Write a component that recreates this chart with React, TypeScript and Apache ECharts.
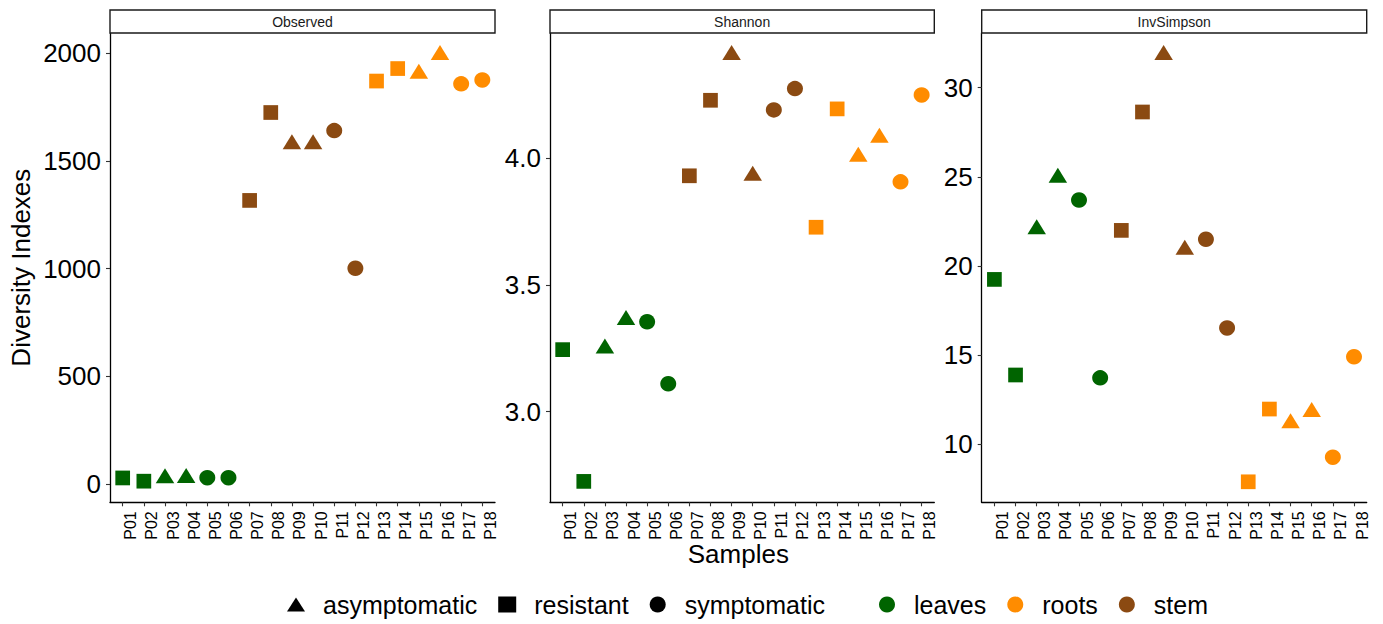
import React, { useEffect, useRef } from "react";
import * as echarts from "echarts";

const samples = ["P01","P02","P03","P04","P05","P06","P07","P08","P09","P10","P11","P12","P13","P14","P15","P16","P17","P18"];
const treatment = [
  "resistant","resistant","asymptomatic","asymptomatic","symptomatic","symptomatic",
  "resistant","resistant","asymptomatic","asymptomatic","symptomatic","symptomatic",
  "resistant","resistant","asymptomatic","asymptomatic","symptomatic","symptomatic",
];
const tissue = [
  "leaves","leaves","leaves","leaves","leaves","leaves",
  "stem","stem","stem","stem","stem","stem",
  "roots","roots","roots","roots","roots","roots",
];
const observed = [29, 14, 39, 40, 30, 30, 1317, 1725, 1589, 1589, 1641, 1002, 1871, 1929, 1916, 2004, 1858, 1876];
const shannon = [3.245, 2.725, 3.259, 3.372, 3.355, 3.110, 3.931, 4.229, 4.418, 3.941, 4.191, 4.275, 3.728, 4.195, 4.016, 4.091, 3.907, 4.250];
const invSimpson = [19.25, 13.89, 22.20, 25.09, 23.70, 13.73, 22.00, 28.64, 31.97, 21.05, 21.50, 16.53, 7.90, 11.98, 11.33, 11.95, 9.28, 14.91];

const panelNames = ["Observed", "Shannon", "InvSimpson"];
const observedTicks = [0, 500, 1000, 1500, 2000];
const shannonTicks = [3.0, 3.5, 4.0];
const invSimpsonTicks = [10, 15, 20, 25, 30];
const treatments = ["asymptomatic", "resistant", "symptomatic"];
const tissues = ["leaves", "roots", "stem"];

const FONT = "'Liberation Sans', Arial, Helvetica, sans-serif";
const tissueColor: Record<string, string> = { leaves: "#006400", roots: "#FF8C00", stem: "#8B4A12" };
const TRI_PATH = "path://M0,13.5 L8.8,0 L17.6,13.5 Z";
const shapeOf: Record<string, any> = { asymptomatic: "triangle", resistant: "rect", symptomatic: "circle" };
const sizeOf: Record<string, any> = { asymptomatic: [18.5, 15], resistant: 14.7, symptomatic: [16, 15.5] };
const legendIcon: Record<string, string> = { asymptomatic: TRI_PATH, resistant: "rect", symptomatic: "circle" };

const panels = [
  { left: 110, width: 385, min: -84, max: 2094, ticks: observedTicks, values: observed, dec: 0 },
  { left: 550, width: 384.3, min: 2.6425, max: 4.4945, ticks: shannonTicks, values: shannon, dec: 1 },
  { left: 981.7, width: 385, min: 6.75, max: 33.07, ticks: invSimpsonTicks, values: invSimpson, dec: 0 },
];
const TOP = 33;
const HEIGHT = 469.3;
const sampleIdx = samples.map((_, i) => i + 1);

export default function App() {
  const ref = useRef<HTMLDivElement>(null);
  useEffect(() => {
    if (!ref.current) return;
    document.body.style.margin = "0";
    const chart = echarts.init(ref.current, null, { renderer: "svg" });

    const grid = panels.map((p) => ({
      left: p.left, top: TOP, width: p.width, height: HEIGHT,
      containLabel: false, outerBoundsMode: "none",
    }));

    const xAxis = panels.map((p, k) => ({
      type: "value",
      gridIndex: k,
      min: 0.4,
      max: 18.6,
      splitLine: { show: false },
      axisLine: { show: true, onZero: false, lineStyle: { color: "#000", width: 1.3 } },
      axisTick: { show: true, length: 4, customValues: sampleIdx, lineStyle: { color: "#333", width: 1.1 } },
      axisLabel: {
        customValues: sampleIdx,
        rotate: 90,
        margin: 9,
        fontSize: 16,
        fontFamily: FONT,
        color: "#000",
        verticalAlign: "top",
        formatter: (v: number) => samples[Math.round(v) - 1] ?? "",
      },
    }));

    const yAxis = panels.map((p, k) => ({
      type: "value",
      gridIndex: k,
      min: p.min,
      max: p.max,
      splitLine: { show: false },
      axisLine: { show: true, onZero: false, lineStyle: { color: "#000", width: 1.3 } },
      axisTick: { show: true, length: 4, customValues: p.ticks, lineStyle: { color: "#333", width: 1.1 } },
      axisLabel: {
        customValues: p.ticks,
        margin: 9,
        fontSize: 26,
        fontFamily: FONT,
        color: "#000",
        formatter: (v: number) => v.toFixed(p.dec),
      },
      ...(k === 0
        ? {
            name: "Diversity Indexes",
            nameLocation: "middle",
            nameGap: 76,
            nameTextStyle: { fontSize: 26, fontFamily: FONT, color: "#000" },
          }
        : {}),
    }));

    const series: any[] = [];
    panels.forEach((p, k) => {
      treatments.forEach((t) => {
        const data: any[] = [];
        samples.forEach((s, i) => {
          if (treatment[i] === t) {
            data.push({ name: s, value: [i + 1, p.values[i]], itemStyle: { color: tissueColor[tissue[i]] } });
          }
        });
        series.push({
          type: "scatter",
          name: t,
          xAxisIndex: k,
          yAxisIndex: k,
          symbol: shapeOf[t],
          symbolSize: sizeOf[t],
          itemStyle: { color: "#000", opacity: 1 },
          data,
        });
      });
    });
    tissues.forEach((tt) => {
      series.push({
        type: "scatter",
        name: tt,
        xAxisIndex: 0,
        yAxisIndex: 0,
        itemStyle: { color: tissueColor[tt], opacity: 1 },
        data: [],
      });
    });

    const graphic: any[] = [];
    panels.forEach((p, k) => {
      graphic.push({
        type: "rect",
        shape: { x: p.left, y: 10, width: p.width, height: 23 },
        style: { fill: "#fff", stroke: "#1a1a1a", lineWidth: 1.4 },
        z: 10,
      });
      graphic.push({
        type: "text",
        x: p.left + p.width / 2,
        y: 21.5,
        z: 11,
        style: {
          text: panelNames[k],
          fontSize: 14,
          fontFamily: FONT,
          fill: "#1a1a1a",
          align: "center",
          verticalAlign: "middle",
          textAlign: "center",
          textVerticalAlign: "middle",
        },
      });
    });
    graphic.push({
      type: "text",
      x: 738.3,
      y: 554,
      style: {
        text: "Samples",
        fontSize: 26,
        fontFamily: FONT,
        fill: "#000",
        align: "center",
        verticalAlign: "middle",
        textAlign: "center",
        textVerticalAlign: "middle",
      },
    });

    const legendCommon = {
      orient: "horizontal",
      top: 592,
      padding: 0,
      itemWidth: 18,
      itemHeight: 16,
      itemGap: 21,
      selectedMode: false,
      textStyle: { fontSize: 25, fontFamily: FONT, color: "#000", padding: [0, 0, 0, 13] },
    };

    chart.setOption({
      animation: false,
      tooltip: { show: false },
      grid,
      xAxis,
      yAxis,
      series,
      graphic,
      legend: [
        {
          ...legendCommon,
          left: 287,
          data: treatments.map((t) => ({ name: t, icon: legendIcon[t], itemStyle: { color: "#000", opacity: 1 } })),
        },
        {
          ...legendCommon,
          left: 879,
          data: tissues.map((tt) => ({ name: tt, icon: "circle", itemStyle: { color: tissueColor[tt], opacity: 1 } })),
        },
      ],
    });
    return () => chart.dispose();
  }, []);

  return (
    <div
      ref={ref}
      style={{ position: "relative", width: 1383, height: 624, background: "#fff" }}
    />
  );
}
